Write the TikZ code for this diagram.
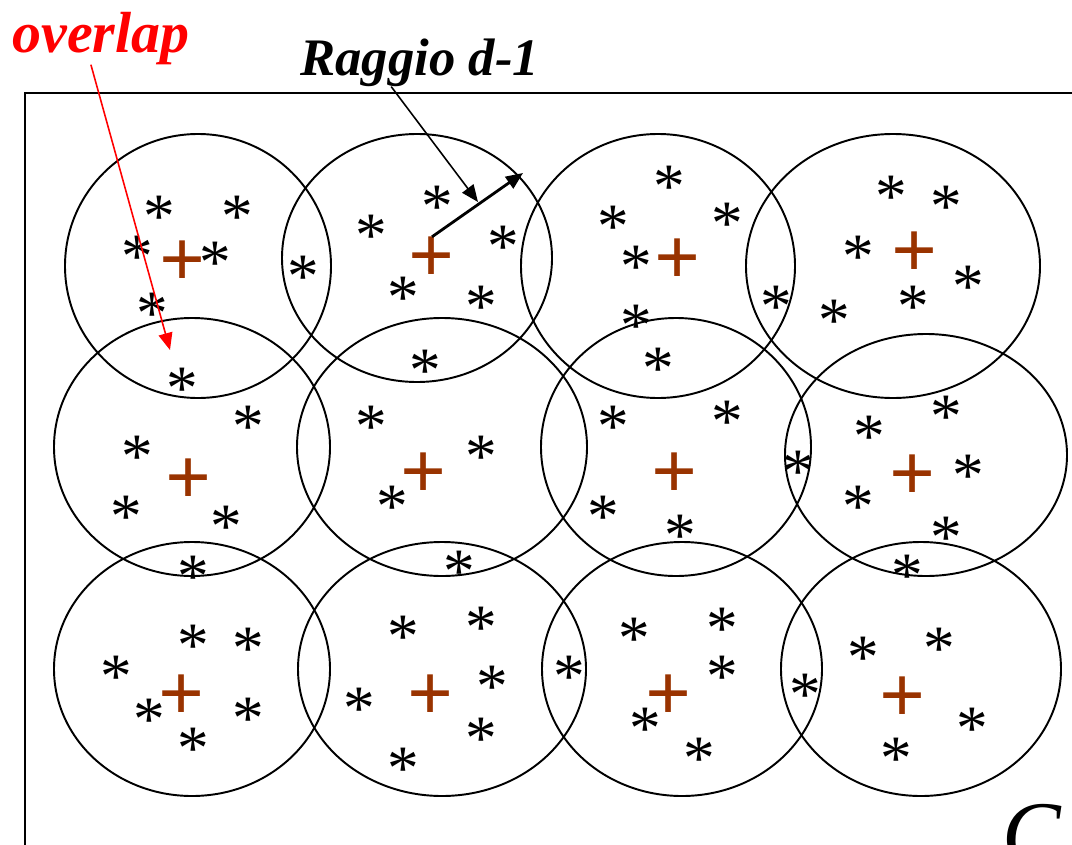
\documentclass[tikz,border=0pt]{standalone}
\usepackage{fontspec}
\setmainfont{Liberation Serif}
\usetikzlibrary{arrows.meta}
\definecolor{centroidbrown}{RGB}{153,51,0}

\begin{document}
\begin{tikzpicture}[x=0.02cm, y=-0.02cm,
  cluster/.style={draw, line width=1.1pt},
  point/.style={font=\fontsize{36}{36}\selectfont, inner sep=0pt, anchor=base, yshift=-17pt},
  centroid/.style={font=\bfseries\fontsize{46}{46}\selectfont, text=centroidbrown, inner sep=0pt},
  tag/.style={font=\bfseries\itshape\fontsize{30}{30}\selectfont, inner sep=0pt, anchor=base west},
  pointer/.style={-{Triangle[length=0.34cm, width=0.28cm]}, line width=0.9pt}
]
\useasboundingbox (0,0) rectangle (1072,845);
\draw[line width=1.1pt] (25,900) |- (1100,93);
\foreach \cx/\cy/\rx/\ry in {198/266/133/132, 417/258/135/124, 658/266/137/132, 893/266/147/132,
  192/447/138/129, 442/447/145/129, 676/447/135/129, 926/455/141/121,
  192/669/138/127, 442/669/144/127, 682/669/140/127, 921/669/140/127}
  \draw[cluster] (\cx,\cy) ellipse [x radius=\rx, y radius=\ry];
\foreach \x/\y [count=\k] in {183/264, 432/260, 678/262, 915/255, 189/482, 424/476,
  675/476, 913/478, 182/698, 431/698, 669/698, 903/700}
  \node[centroid] (c\k) at (\x,\y) {+};
\foreach \x/\y [count=\k] in {159/208, 237/208, 137/248, 215/254, 152/305, 303/268, 182/380,
  371/227, 437/198, 503/238, 403/289, 481/298, 425/362,
  669/178, 613/218, 636/258, 636/317, 658/360, 727/215,
  776/298, 834/312, 891/188, 946/198, 858/248, 968/278, 913/298, 946/408,
  248/418, 137/448, 126/508, 226/518, 193/568,
  371/418, 392/498, 481/448, 459/563,
  613/418, 727/413, 603/508, 680/527,
  798/463, 869/428, 968/467, 858/498, 946/529, 907/567,
  193/637, 248/640, 116/668, 149/711, 248/710, 193/740,
  403/628, 481/619, 492/678, 359/700, 481/730, 403/760,
  569/668, 634/630, 722/620, 722/668, 645/720, 699/750,
  805/686, 863/649, 939/640, 972/720, 896/750}
  \node[point] (p\k) at (\x,\y) {*};
\node[tag, text=red, font=\bfseries\itshape\fontsize{33}{33}\selectfont] (overlap) at (12,52) {overlap};
\node[tag] (raggio) at (300,75) {Raggio d-1};
\node[font=\itshape\fontsize{50}{50}\selectfont, inner sep=0pt, anchor=base west] (spaceC) at (1002,862) {C};
\coordinate (overlaptip) at (170,350);
\coordinate (raggiotip) at (478,202);
\coordinate (radiustip) at (523,173);
\draw[pointer, red] ([xshift=-0.2cm]overlap.south) -- (overlaptip);
\draw[pointer] ([xshift=-0.57cm]raggio.south) -- (raggiotip);
\draw[pointer, line width=1.6pt] (c2.north) -- (radiustip);
\end{tikzpicture}
\end{document}
